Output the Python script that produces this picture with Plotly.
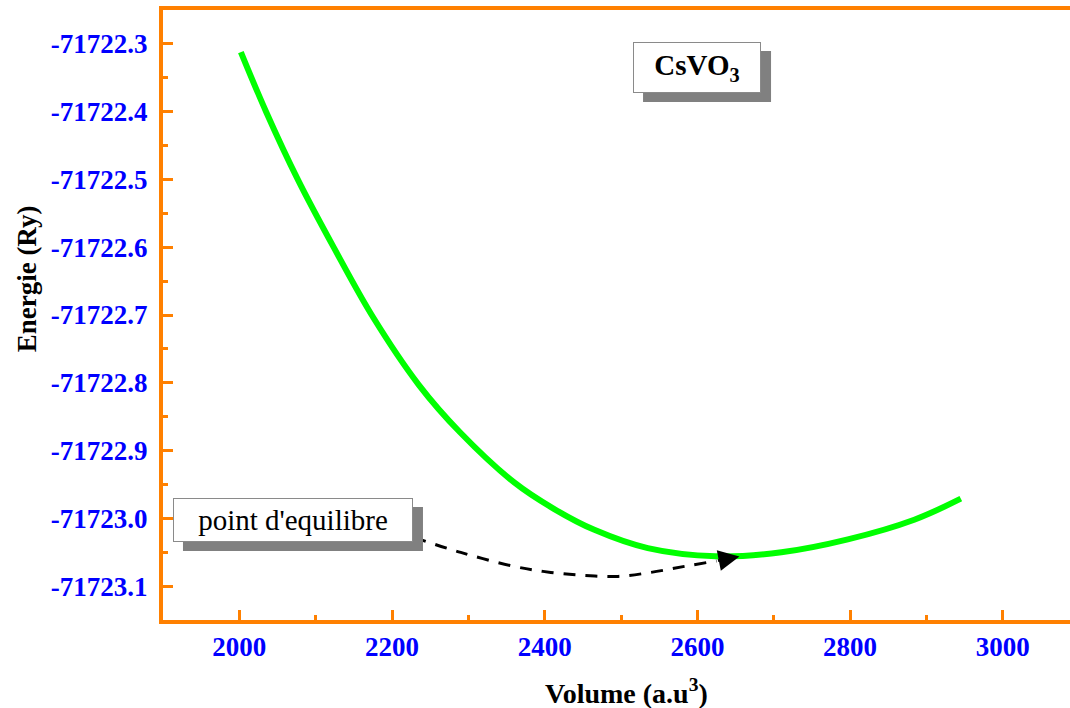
import plotly.graph_objects as go

# Curve data
volume = [2002, 2035, 2077, 2124, 2175, 2235, 2289, 2360, 2412, 2465, 2535, 2624, 2710, 2797, 2884, 2945]
energy = [-71722.312, -71722.400, -71722.501, -71722.601, -71722.703, -71722.803, -71722.873,
          -71722.947, -71722.986, -71723.017, -71723.044, -71723.056, -71723.050, -71723.031,
          -71723.002, -71722.971]

# dashed arrow path (data coordinates)
arrow_v = [2229, 2290, 2360, 2408, 2452, 2496, 2539, 2583, 2625]
arrow_e = [-71723.0282, -71723.0503, -71723.0709, -71723.0798, -71723.0842,
           -71723.0857, -71723.0798, -71723.0709, -71723.0628]
arrow_tip = (2655, -71723.0562)

x_ticks = [2000, 2200, 2400, 2600, 2800, 3000]
x_labels = ["2000", "2200", "2400", "2600", "2800", "3000"]
y_ticks = [-71722.3, -71722.4, -71722.5, -71722.6, -71722.7, -71722.8, -71722.9, -71723.0, -71723.1]
y_labels = ["-71722.3", "-71722.4", "-71722.5", "-71722.6", "-71722.7", "-71722.8",
            "-71722.9", "-71723.0", "-71723.1"]

x_range = [1900, 3088]
y_range = [-71723.15, -71722.25]

ORANGE = "#FF8000"
FONT = "Liberation Serif"

fig = go.Figure()
fig.add_trace(go.Scatter(x=volume, y=energy, mode="lines",
                         line=dict(color="#00FF00", width=6, shape="spline", smoothing=1.0),
                         showlegend=False, hoverinfo="skip"))
fig.add_trace(go.Scatter(x=arrow_v, y=arrow_e, mode="lines",
                         line=dict(color="black", width=3, dash="12px,10px", shape="spline"),
                         showlegend=False, hoverinfo="skip"))

fig.add_annotation(x=arrow_tip[0], y=arrow_tip[1], ax=arrow_v[-1], ay=arrow_e[-1],
                   xref="x", yref="y", axref="x", ayref="y", text="",
                   showarrow=True, arrowhead=2, arrowsize=1.4, arrowwidth=3, arrowcolor="black")

def boxed(text, x, y, w, h, size, bold):
    weight = "bold" if bold else "normal"
    tw = w + 8  # total width incl. pad and border
    th = h + 8
    # shadow as a pixel-sized rectangle offset down-right
    fig.add_shape(type="rect", xref="paper", yref="paper", xsizemode="pixel", ysizemode="pixel",
                  xanchor=x, yanchor=y, x0=-tw / 2 + 10, x1=tw / 2 + 10,
                  y0=-th / 2 - 9, y1=th / 2 - 9,
                  fillcolor="#808080", line=dict(width=0), layer="above")
    fig.add_annotation(x=x, y=y, xref="paper", yref="paper", text=text, showarrow=False,
                       xanchor="center", yanchor="middle", width=w, height=h,
                       borderpad=3, borderwidth=1, bgcolor="white", bordercolor="#8a8a8a",
                       font=dict(family=FONT, size=size, color="black", weight=weight))

boxed("CsVO<sub>3</sub>", 0.5888, 0.9057, 120, 43, 29, True)
boxed("point d'equilibre", 0.1433, 0.1639, 232, 36, 29, False)

# axis titles
fig.add_annotation(x=-0.15, y=0.56, xref="paper", yref="paper", text="Energie (Ry)",
                   textangle=-90, showarrow=False, xanchor="center", yanchor="middle",
                   font=dict(family=FONT, size=27, color="black", weight="bold"))
fig.add_annotation(x=0.5105, y=-0.118, xref="paper", yref="paper", text="Volume (a.u<sup>3</sup>)",
                   showarrow=False, xanchor="center", yanchor="middle",
                   font=dict(family=FONT, size=28, color="black", weight="bold"))

fig.update_xaxes(range=x_range, tickvals=x_ticks, ticktext=x_labels, showgrid=False, zeroline=False,
                 showline=True, linecolor=ORANGE, linewidth=4, mirror=True,
                 ticks="inside", ticklen=10, tickwidth=3, tickcolor=ORANGE,
                 ticklabelstandoff=0,
                 minor=dict(ticks="inside", ticklen=5, tickwidth=3, tickcolor=ORANGE, dtick=100, tick0=2000),
                 tickfont=dict(family=FONT, size=27, color="#0000FF", weight="bold"))
fig.update_yaxes(range=y_range, tickvals=y_ticks, ticktext=y_labels, showgrid=False,
                 zeroline=False, showline=True, linecolor=ORANGE, linewidth=4, mirror=False,
                 ticks="inside", ticklen=10, tickwidth=3, tickcolor=ORANGE,
                 ticklabelstandoff=6,
                 minor=dict(ticks="inside", ticklen=5, tickwidth=3, tickcolor=ORANGE, dtick=0.05, tick0=-71722.3),
                 tickfont=dict(family=FONT, size=27, color="#0000FF", weight="bold"))

fig.update_layout(width=1070, height=708, margin=dict(l=163, r=0, t=10, b=88),
                  plot_bgcolor="white", paper_bgcolor="white", showlegend=False)

fig.write_html("out.html")
